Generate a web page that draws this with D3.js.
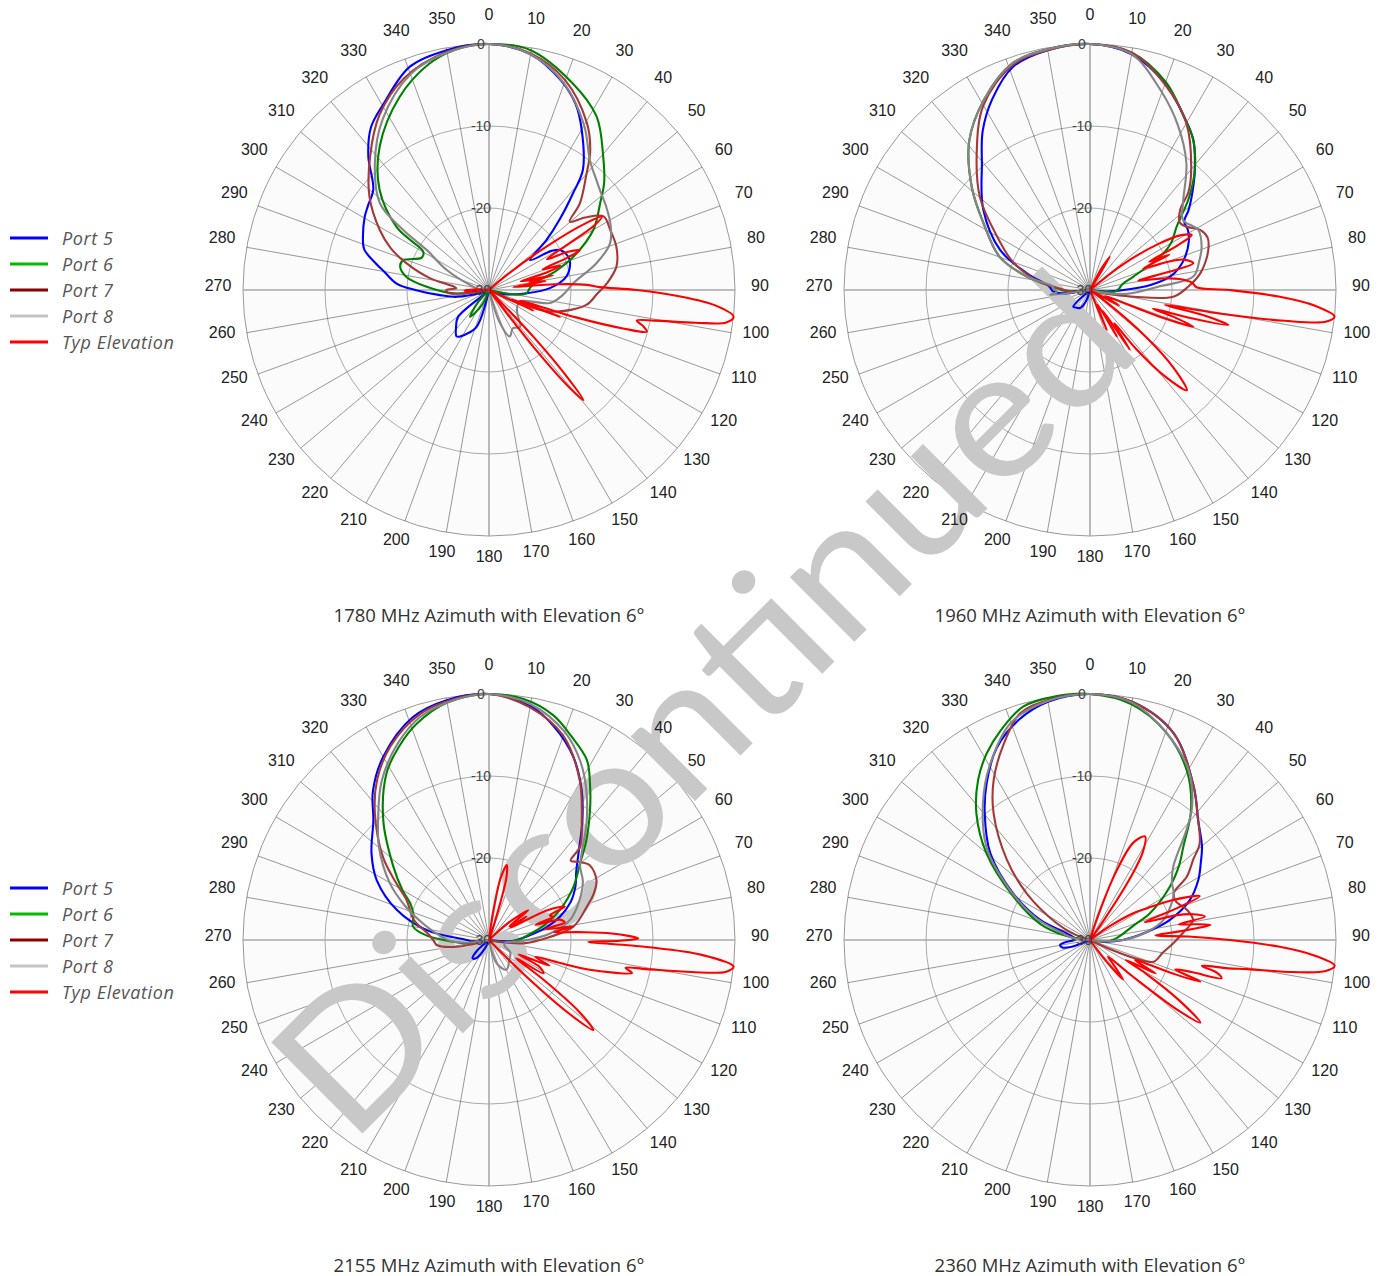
<!DOCTYPE html>
<html>
<head>
<script src="https://d3js.org/d3.v7.min.js"></script>
<style>
  body { margin: 0; background: #fff; }
  svg { display: block; }
</style>
</head>
<body>
<svg id="chart" width="1388" height="1276"></svg>
<script>
// ---- data: [azimuth deg, dB] ----
const angleTicks = d3.range(0, 360, 10);
const dbTicks = [0, -10, -20, -30];
const seriesNames = ["Port 5", "Port 6", "Port 7", "Port 8", "Typ Elevation"];
const freqs = ["1780", "1960", "2155", "2360"];

const p5_1780 = [[0,0],[10,-0.8],[19,-3],[25,-5],[30,-7.4],[38,-11.4],[41,-14.4],[45,-17.8],[49,-20.7],[54,-23.8],[58,-21],[61,-20],[68,-19.5],[72,-19.6],[80,-20.4],[88,-22.5],[95,-25.4],[105,-28],[115,-30],[195,-30],[198.5,-25.3],[207,-24],[214.7,-23.1],[222,-24],[229,-25],[236,-30],[250,-29],[258,-26],[264,-24],[270,-21],[274,-18.7],[280,-17],[283,-15.9],[288,-14],[293,-13.3],[300.6,-12.4],[305,-12],[311,-11.3],[318,-8],[324,-5.5],[330.5,-3.9],[340.5,-1.1],[350,-0.3]];
const p6_1780 = [[0,0],[9.7,-0.3],[22,-2.8],[31.8,-5.1],[40.6,-8.6],[47,-10.8],[52,-12.8],[60,-15.3],[68.4,-18.9],[74,-21.5],[80,-24],[87,-25],[95,-25.4],[100,-27],[106,-30],[195,-30],[205,-28],[215.4,-26],[222,-28],[228,-30],[255,-30],[264.7,-25.6],[273,-22.4],[279,-19.8],[284.7,-18.8],[289,-18.9],[295.7,-20.9],[300.3,-20.7],[302.5,-18.5],[304.4,-16.3],[312.5,-11.9],[322.7,-8],[335,-4.1],[345,-1.5],[352,-0.4]];
const p7_1780 = [[0,0],[10,-0.7],[20,-2.8],[30.4,-6.4],[36,-9],[40,-11.5],[46.4,-14.7],[49.8,-17.1],[53,-15.3],[57.3,-13.4],[63.6,-13.5],[71.3,-13.6],[79.6,-14.2],[86.8,-15.6],[92,-16.8],[98.7,-18],[108.6,-21.7],[113,-25],[118,-30],[250,-30],[262,-27],[266,-25],[270,-24.8],[273,-26],[276,-25.6],[281.2,-22.7],[288,-19.4],[293,-17],[298.8,-14.8],[308,-11.5],[318.3,-8.2],[328,-4.8],[338,-2.2],[350,-0.5]];
const p8_1780 = [[0,0],[10,-0.8],[20,-3.2],[30,-6.8],[38,-10],[44,-11.2],[48,-11.8],[55,-12.5],[62,-13.2],[69,-14.2],[76,-16.5],[85.5,-19.7],[94,-21],[102,-22.4],[110,-26],[121,-26],[130,-25.5],[139.8,-24.1],[148,-24.5],[155.8,-23.8],[162,-26],[168,-30],[250,-30],[270,-29],[282,-28],[295.3,-24.3],[302.7,-21],[305,-17.2],[308.5,-13],[318,-9.2],[328,-5.5],[340,-2],[350,-0.6]];
const elev_1780 = [[0,-30],[46,-30],[50,-27],[53,-21],[55.5,-15.5],[57,-13.6],[58.5,-15],[60,-19],[62,-22],[64,-19.5],[66.3,-17.9],[67.5,-19.5],[69,-23],[71,-20.8],[73,-22.5],[75,-26],[77,-22],[79,-25],[81,-23],[83,-27],[85,-22],[87,-18],[88.5,-16.5],[90,-12],[92,-6.5],[94,-2.2],[96.2,0],[97.8,-0.8],[99,-4.5],[100.5,-9.5],[101.7,-11.6],[103,-10.8],[104.8,-10.1],[106,-13],[107.5,-19],[109,-26],[110.8,-20.7],[112.5,-27],[115,-24],[117,-30],[135,-30],[136.5,-22],[138,-16],[139.4,-12.3],[140.5,-14.5],[142,-21],[143.5,-30],[255,-30],[262,-29],[268,-27],[272,-28],[280,-30]];

const p5_1960 = [[0,0],[10,-0.8],[20,-3.2],[28,-5.8],[34.6,-7.8],[41.2,-10.6],[46,-12.6],[50.9,-14.5],[54,-15.8],[58.6,-16],[64,-16.6],[70.7,-17.7],[76,-18.8],[80.5,-20.1],[85,-22.5],[90,-25.9],[95,-28],[100,-30],[195,-30],[200,-28.5],[208.6,-27.5],[217,-27.3],[225,-27.1],[230,-29.5],[255,-30],[262,-27],[268,-25.5],[275,-25],[285,-22],[294,-18],[307,-13.7],[319.5,-9.7],[326,-6.6],[333,-3.8],[341,-1.2],[350,-0.3]];
const p6_1960 = [[0,0],[10,-0.6],[20,-3],[28,-5.8],[34.6,-7.8],[41.2,-10.6],[47,-13.5],[53.8,-16.9],[60,-18.6],[64.5,-20.5],[73,-24.5],[80,-26],[88,-26.5],[94,-27],[100,-30],[258,-30],[268,-27],[275,-25.5],[282,-22.1],[290,-18.3],[302,-14.7],[311,-10.9],[321,-6.6],[331,-3.4],[341,-0.8],[350,-0.2]];
const p7_1960 = [[0,0],[10,-0.6],[20,-3.3],[30,-6.5],[40,-10.8],[45,-13],[48.4,-15.3],[53,-16.3],[56.8,-15.9],[61.4,-14.7],[66,-14.3],[69.9,-14.6],[75,-15.3],[81.4,-16.4],[88,-18],[94.6,-19.8],[98.7,-24.6],[103,-28],[108,-30],[255,-30],[265,-28],[272,-26.5],[280,-23.5],[290,-20],[300,-16.9],[310,-12.5],[320,-8.5],[330,-4],[341,-1],[350,-0.3]];
const p8_1960 = [[0,0],[10,-0.8],[19.3,-4.1],[28,-7.2],[37.3,-10.6],[47,-14.5],[53,-15.8],[61,-14.9],[68.8,-15.4],[75,-16.2],[82.6,-17.3],[87,-21.5],[96,-25.5],[103,-29],[108,-30],[255,-30],[263,-25.1],[267,-26],[272,-25.5],[275,-25.5],[282,-22.1],[290,-18.3],[302,-14.7],[311,-10.9],[321,-6.6],[331,-3.4],[341,-0.8],[350,-0.2]];
const elev_1960 = [[0,-30],[25,-30],[28,-27],[31,-25.3],[34,-30],[48,-30],[52,-25],[56,-20],[59,-17],[61.6,-15.9],[63,-18],[64.5,-22],[66,-19.4],[68,-23],[70,-20],[72,-18],[75.5,-17],[77,-20],[79,-24],[81,-21],[83,-19],[86,-17.5],[88.5,-17],[90,-13],[92,-7],[94,-2.5],[96.2,0],[97.6,-0.9],[99,-6],[100.3,-14],[101.3,-20.7],[102.5,-16],[104.2,-12.6],[105.5,-17],[106.5,-22],[108,-19],[109.6,-16.6],[111,-21],[113,-28],[118,-26],[122,-30],[126,-28],[130,-21],[133,-16],[136,-13],[139,-16],[142,-21],[144,-25],[146.3,-21.2],[148,-27],[150,-23.4],[153,-28],[157.4,-24.7],[160,-30]];

const p5_2155 = [[0,0],[10,-1],[17,-2.8],[24.7,-5.4],[31.7,-8.5],[38,-11.5],[45.9,-14.8],[52,-16.5],[58.2,-17.6],[65,-19],[71.8,-20.9],[78,-23],[85,-25.5],[92,-27],[100,-30],[198,-30],[205,-29],[215,-27.3],[222,-27],[228,-28],[234,-30],[255,-30],[265,-28],[270,-27.3],[279,-22.3],[288,-18.2],[298,-14.5],[306.4,-12.2],[316,-9.7],[322,-7],[330,-4.2],[341,-1.3],[350,-0.3]];
const p6_2155 = [[0,0],[8,-0.3],[16,-1.5],[22,-3.2],[28.5,-5],[33.4,-7.6],[38,-10],[44.3,-13],[50,-15.5],[57.7,-17.8],[67,-20.6],[75,-23],[82,-25],[90,-26.5],[98,-28],[105,-30],[255,-30],[262,-27],[267.3,-25.6],[274,-22.4],[280,-20.6],[288.3,-20.3],[295,-19.4],[300,-17.8],[307.5,-15.3],[318.6,-10.5],[328.5,-6.1],[335,-4],[341.5,-2.2],[350,-0.6]];
const p7_2155 = [[0,0],[10,-1.2],[20,-3.5],[29.6,-7.6],[37.7,-11.5],[44.3,-14.1],[45.8,-16.1],[49,-15.5],[53.4,-14.7],[60.9,-15],[66,-16],[71.2,-17.4],[81,-19.6],[90,-23.8],[96,-26],[100,-30],[250,-30],[258,-26],[264.5,-23.6],[270,-23.2],[276,-22.5],[285,-20.5],[296,-18.8],[302,-16.5],[308,-13.6],[318,-9.2],[325,-6.2],[333,-3.5],[343,-1.2],[352,-0.3]];
const p8_2155 = [[0,0],[10,-0.8],[20,-3],[27,-5.5],[33,-8.2],[40,-11.5],[45,-13.8],[51,-15.7],[58,-16.5],[66,-17.9],[76,-19.8],[84,-22.5],[92,-26],[100,-28],[110,-28],[120,-27],[135,-26.5],[149.5,-25.8],[161.7,-27],[168,-30],[255,-30],[262,-28],[268,-25.5],[275,-24],[283,-22],[292,-19],[300,-16],[310,-12.5],[318,-9.8],[326,-6.6],[335,-3.6],[343,-1.5],[352,-0.4]];
const elev_2155 = [[0,-30],[6,-30],[8,-27],[10.5,-22.5],[13.3,-20.6],[15.5,-22],[18,-28],[20,-30],[40,-30],[48,-27],[53,-24],[56,-27],[58,-24.6],[60,-27],[63,-22],[66.3,-19.9],[68,-22],[70,-21.7],[72,-24],[74,-21],[77,-20.5],[79,-23],[81,-19.6],[83,-22],[85,-19],[87,-15],[89.4,-11.8],[90.3,-14],[91,-17.9],[92.5,-11],[94,-4],[96.2,0],[97.6,-0.8],[99,-5],[100.5,-10.5],[101.5,-13],[103,-12.1],[104.5,-14],[106.5,-17.2],[108,-21],[110,-24],[113,-22],[116,-26],[118,-23],[121.5,-22.2],[124,-26],[126,-22],[128.5,-16],[130.8,-13.2],[132.5,-16.5],[134.5,-24],[137,-30],[145,-30]];

const p5_2360 = [[0,0],[10,-0.5],[22,-2.8],[34,-7.4],[42,-10.3],[50.1,-12.2],[55,-13.5],[61,-14.9],[68.2,-16.9],[76,-20],[82,-23],[90,-26],[96,-28],[100,-30],[245,-30],[250,-27.5],[255,-26.5],[260.5,-26.3],[265,-27],[270,-28],[278,-28],[286,-27],[292,-23.4],[301.3,-19],[311,-13.9],[320.3,-9.9],[326.6,-7.1],[334,-4],[342,-1.8],[350,-0.5]];
const p6_2360 = [[0,0],[10,-0.8],[20,-3],[30,-6.3],[38,-10],[45,-13.9],[50,-15.8],[56.3,-18.3],[66,-22],[72,-24.5],[80,-26],[88,-27],[95,-28],[100,-30],[270,-30],[280,-27],[288,-23.6],[299.5,-19.3],[310,-13.5],[318,-9.3],[325,-6.2],[331,-4],[337,-2.2],[344,-0.4],[352,0]];
const p7_2360 = [[0,0],[10,-0.5],[22,-2.8],[34,-7.4],[42,-10.3],[48.7,-12.2],[52,-14],[56.8,-15.9],[60.8,-18.3],[66,-18.5],[72.8,-17.6],[79,-17.2],[85,-18.5],[92,-19.8],[100,-21],[108.9,-21.8],[112,-24],[115,-28],[118,-30],[280,-30],[290,-28],[296.6,-25.5],[306.4,-20.4],[314,-15.9],[322.7,-10.6],[329,-7.2],[336,-4],[342.8,-1.1],[350,-0.3]];
const p8_2360 = [[0,0],[10,-0.6],[20,-3],[30,-6],[37.4,-9.5],[41.3,-12.2],[48.7,-16.5],[55,-17.8],[60.8,-18.3],[67,-19.3],[74.7,-20.7],[82,-23],[90,-26],[96,-29],[100,-30],[268,-30],[276,-28],[284,-26.5],[292,-23],[302,-18.5],[312,-13],[322,-8.8],[330,-5.5],[340,-1.8],[350,-0.4]];
const elev_2360 = [[0,-30],[16,-30],[18,-27],[21,-21],[24,-17],[28,-15.7],[31,-17.5],[33,-21],[35,-27],[37,-30],[50,-30],[55,-27],[58,-24],[61,-22],[64,-19],[68.2,-15.6],[70,-19],[72,-23],[74,-19],[76,-17],[78.5,-15.7],[80,-19],[81.5,-17],[82.9,-15.2],[84.5,-19],[86,-22],[88,-18],[90,-13],[92,-7],[94,-2.5],[96,0],[97.5,-1],[99,-5],[100.5,-10.5],[101.6,-12.8],[103,-16],[104.5,-14],[106.2,-13.3],[107.5,-17],[109,-19],[110.7,-15.6],[112,-19],[114,-24],[117,-21],[119,-25],[121,-22],[124,-17],[126.8,-13.2],[128.5,-16],[130.5,-23],[133,-27],[136,-26],[140,-23.7],[143,-27],[146,-30]];

const plotData = [
  [p5_1780, p6_1780, p7_1780, p8_1780, elev_1780],
  [p5_1960, p6_1960, p7_1960, p8_1960, elev_1960],
  [p5_2155, p6_2155, p7_2155, p8_2155, elev_2155],
  [p5_2360, p6_2360, p7_2360, p8_2360, elev_2360]
];

// ---- layout / style ----
const centers = [[489, 290], [1090, 290], [489, 940], [1090, 940]];
const R = 246;
const lineColors = ["#0000ff", "#008000", "#a33a3a", "#858585", "#ff0000"];
const legendColors = ["#0000ff", "#00bb00", "#8b0000", "#c4c4c4", "#ff0000"];

const svg = d3.select("#chart");
const r = d3.scaleLinear().domain([-30, 0]).range([0, R]).clamp(true);
const rad = a => a * Math.PI / 180;

const line = d3.lineRadial()
  .angle(d => rad(d[0]))
  .radius(d => r(d[1]))
  .curve(d3.curveCatmullRomClosed.alpha(0.5));

const grids = svg.append("g");
const wm = svg.append("g");
const curves = svg.append("g");
const labels = svg.append("g");

centers.forEach((c, i) => {
  const g = grids.append("g").attr("transform", `translate(${c[0]},${c[1]})`);
  g.append("circle").attr("r", R).attr("fill", "#fbfbfb").attr("stroke", "#999").attr("stroke-width", 1);
  g.selectAll(".ring").data(dbTicks.slice(1, 3)).enter().append("circle")
    .attr("r", d => r(d)).attr("fill", "none").attr("stroke", "#aaa").attr("stroke-width", 1);
  g.selectAll(".spoke").data(angleTicks).enter().append("line")
    .attr("x1", 0).attr("y1", 0)
    .attr("x2", d => R * Math.sin(rad(d)))
    .attr("y2", d => -R * Math.cos(rad(d)))
    .attr("stroke", d => d % 90 === 0 ? "#a8a8a8" : "#555")
    .attr("stroke-width", d => d % 90 === 0 ? 1.6 : 0.6);

  const cg = curves.append("g").attr("transform", `translate(${c[0]},${c[1]})`);
  plotData[i].forEach((s, j) => {
    cg.append("path").attr("d", line(s)).attr("fill", "none")
      .attr("stroke", lineColors[j]).attr("stroke-width", 2.1)
      .attr("stroke-linejoin", "round");
  });

  const lg = labels.append("g").attr("transform", `translate(${c[0]},${c[1]})`);
  lg.selectAll(".at").data(angleTicks).enter().append("text")
    .attr("x", d => 271 * Math.sin(rad(d)))
    .attr("y", d => -271 * Math.cos(rad(d)) - 5)
    .attr("text-anchor", "middle").attr("dominant-baseline", "central")
    .attr("font-family", "Liberation Sans, Arial, sans-serif").attr("font-size", 16)
    .attr("fill", "#222").text(d => d);
  lg.selectAll(".dt").data(dbTicks).enter().append("text")
    .attr("x", -8).attr("y", d => -r(d))
    .attr("text-anchor", "middle").attr("dominant-baseline", "central")
    .attr("font-family", "Liberation Sans, Arial, sans-serif").attr("font-size", 14)
    .attr("fill", "#444").text(d => d);
  lg.append("text").attr("x", 0).attr("y", 324)
    .attr("text-anchor", "middle").attr("dominant-baseline", "central")
    .attr("font-family", "Open Sans, sans-serif").attr("font-size", 18.5)
    .attr("fill", "#333").text(freqs[i] + " MHz Azimuth with Elevation 6°");
});

// legends
[238, 888].forEach(y0 => {
  const g = labels.append("g").attr("transform", `translate(0,${y0})`);
  seriesNames.forEach((n, j) => {
    g.append("line").attr("x1", 10).attr("x2", 48).attr("y1", j * 26).attr("y2", j * 26)
      .attr("stroke", legendColors[j]).attr("stroke-width", 3);
    g.append("text").attr("x", 62).attr("y", j * 26).attr("dominant-baseline", "central")
      .attr("font-family", "Open Sans, sans-serif").attr("font-style", "italic")
      .attr("font-size", 18).attr("letter-spacing", 0.6).attr("fill", "#555").text(n);
  });
});

// watermark
wm.append("text")
  .attr("transform", "translate(350,1146) rotate(-45)")
  .attr("font-family", "Lato, sans-serif").attr("font-weight", 400)
  .attr("font-size", 180).attr("fill", "#c8c8c8")
  .attr("textLength", 1125).attr("lengthAdjust", "spacingAndGlyphs")
  .text("Discontinued");
</script>
</body>
</html>
